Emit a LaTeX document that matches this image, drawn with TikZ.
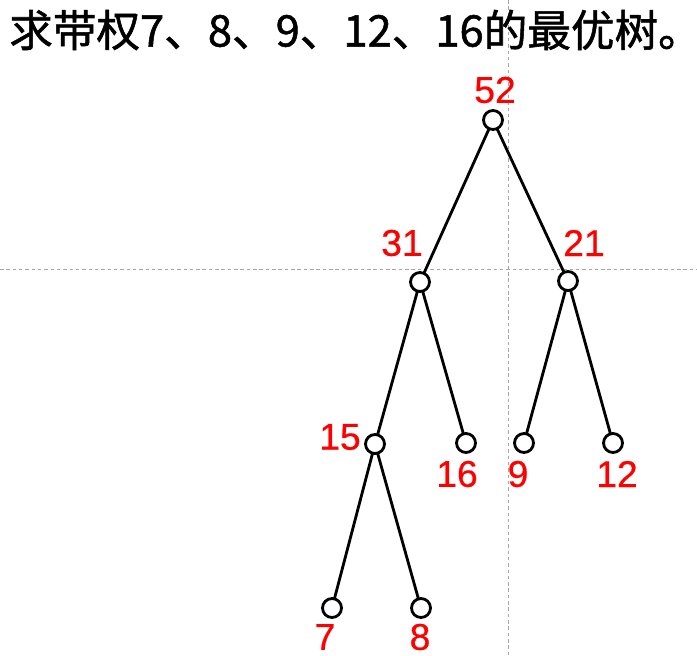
\documentclass[tikz,border=0pt]{standalone}
\usepackage{fontspec}
\setmainfont{Liberation Sans}
\newfontfamily\cjk[FakeBold=1.2]{Noto Sans CJK SC}
\newfontfamily\poids[FakeBold=0.6]{Liberation Sans}
\usepackage{tikz}
\usetikzlibrary{positioning}
\tikzset{
  vertex/.style={circle, draw, line width=2pt, inner sep=0pt, minimum size=13.5pt, fill=white},
  weight/.style={text=red, font=\poids\fontsize{26.5}{28}\selectfont},
  edge/.style={line width=2pt},
  guide/.style={gray!70, line width=0.5pt, dash pattern=on 2.5pt off 2pt}
}

\begin{document}
\begin{tikzpicture}[x=0.025cm, y=-0.025cm]
    \useasboundingbox (0,0) rectangle (697,656);

    % les lignes de repere (pointillees)
    \draw[guide] (0,269) -- (697,269);
    \draw[guide] (508,0) -- (508,656);

    % Titre
    \node[anchor=west, inner sep=0pt, font=\cjk\fontsize{31}{33}\selectfont] (titre) at (9,30) {求带权7、8、9、12、16的最优树。\kern-0.45em};

    % Les aretes
    \coordinate (r) at (493,120);
    \coordinate (a) at (420,282);
    \coordinate (b) at (568,281);
    \coordinate (c) at (375,444);
    \coordinate (d) at (466,443);
    \coordinate (e) at (524,443);
    \coordinate (f) at (613,443);
    \coordinate (g) at (332,608);
    \coordinate (h) at (421,608);
    \draw[edge] (r) -- (a);
    \draw[edge] (r) -- (b);
    \draw[edge] (a) -- (c);
    \draw[edge] (a) -- (d);
    \draw[edge] (b) -- (e);
    \draw[edge] (b) -- (f);
    \draw[edge] (c) -- (g);
    \draw[edge] (c) -- (h);

    % Les sommets
    \node[vertex] (n52) at (r) {};
    \node[vertex] (n31) at (a) {};
    \node[vertex] (n21) at (b) {};
    \node[vertex] (n15) at (c) {};
    \node[vertex] (n16) at (d) {};
    \node[vertex] (n9) at (e) {};
    \node[vertex] (n12) at (f) {};
    \node[vertex] (n7) at (g) {};
    \node[vertex] (n8) at (h) {};

    % Les poids
    \node[weight] (p52) at (495,90) {52};
    \node[weight] (p31) at (402,243) {31};
    \node[weight] (p21) at (584,243) {21};
    \node[weight] (p15) at (340,437) {15};
    \node[weight] (p16) at (457,474) {16};
    \node[weight] (p9) at (518,474) {9};
    \node[weight] (p12) at (617,474) {12};
    \node[weight] (p7) at (325,637) {7};
    \node[weight] (p8) at (420,637) {8};
\end{tikzpicture}
\end{document}
